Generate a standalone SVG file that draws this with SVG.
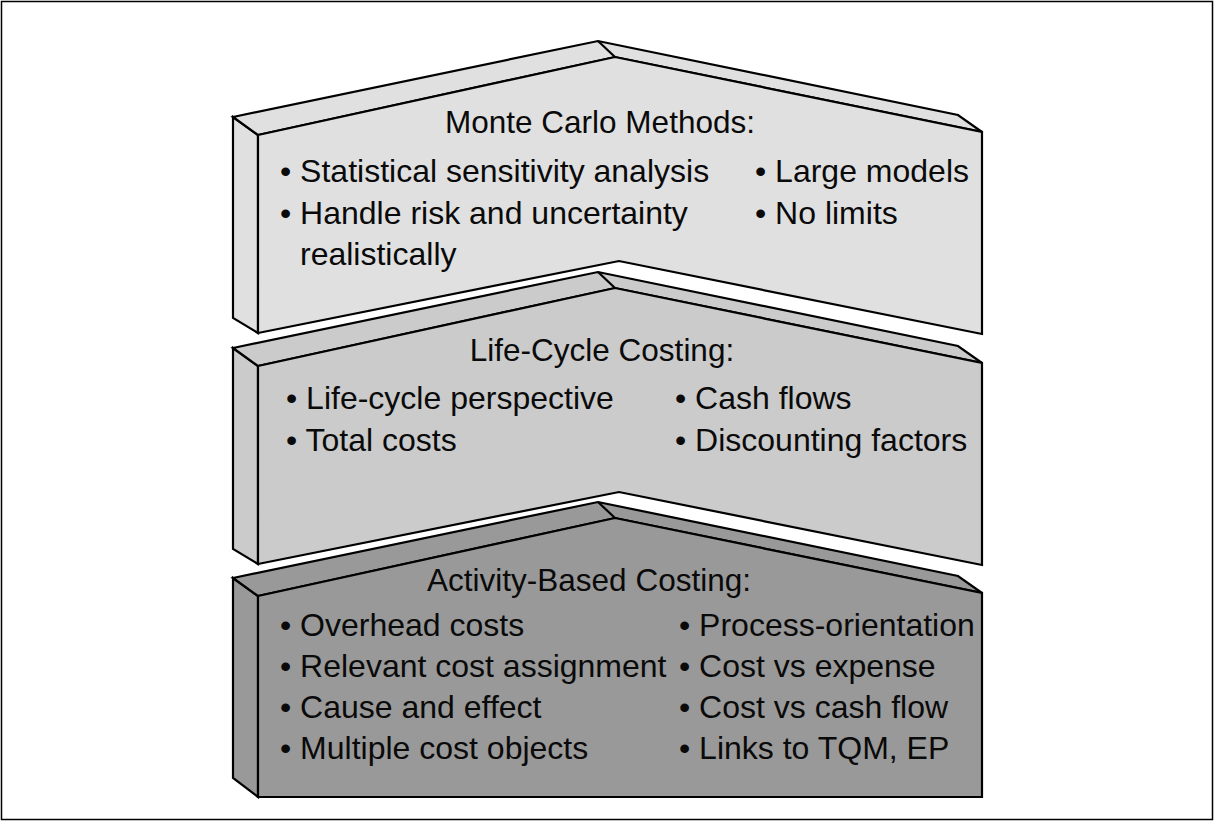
<svg xmlns="http://www.w3.org/2000/svg" width="1216" height="824" viewBox="0 0 1216 824">
  <style>
    .edge { stroke: #000; stroke-width: 2.2; stroke-linejoin: miter; }
    .b1 { fill: #e0e0e0; }
    .b2 { fill: #cbcbcb; }
    .b3 { fill: #999999; }
    .title { font-family: "Liberation Sans", Arial, sans-serif; font-size: 31.5px; fill: #0a0a0a; text-anchor: middle; }
    .item { font-family: "Liberation Sans", Arial, sans-serif; font-size: 32px; fill: #0a0a0a; }
  </style>
  <defs>
    <!-- chevron slab: left side face, top bevel, front face -->
    <g id="slab-chevron">
      <polygon class="edge" points="233,117 258,135 258,333 233,318"/>
      <polygon class="edge" points="233,117 598,41 958,115 982,132 615,57 258,135"/>
      <polygon class="edge" points="258,135 615,57 982,132 982,334 619,261 258,333"/>
      <line class="edge" x1="598" y1="41" x2="615" y2="57"/>
    </g>
    <!-- base slab with a flat bottom -->
    <g id="slab-flat">
      <polygon class="edge" points="233,117 258,135 258,336 233,317"/>
      <polygon class="edge" points="233,117 598,41 958,115 982,132 615,57 258,135"/>
      <polygon class="edge" points="258,135 615,57 982,132 982,336 258,336"/>
      <line class="edge" x1="598" y1="41" x2="615" y2="57"/>
    </g>
  </defs>

  <rect x="0" y="0" width="1216" height="824" fill="#fff"/>
  <rect x="1.5" y="1.5" width="1211" height="818" fill="none" stroke="#000" stroke-width="1.5"/>

  <g id="monte-carlo">
    <use href="#slab-chevron" class="b1"/>
    <text class="title" x="600" y="133">Monte Carlo Methods:</text>
    <text class="item" x="280" y="182">• Statistical sensitivity analysis</text>
    <text class="item" x="280" y="224">• Handle risk and uncertainty</text>
    <text class="item" x="300" y="265">realistically</text>
    <text class="item" x="755" y="182">• Large models</text>
    <text class="item" x="755" y="224">• No limits</text>
  </g>

  <g id="life-cycle" transform="translate(0,231)">
    <use href="#slab-chevron" class="b2"/>
  </g>
  <g id="life-cycle-text">
    <text class="title" x="602" y="361">Life-Cycle Costing:</text>
    <text class="item" x="286" y="409">• Life-cycle perspective</text>
    <text class="item" x="286" y="451">• Total costs</text>
    <text class="item" x="675" y="409">• Cash flows</text>
    <text class="item" x="675" y="451">• Discounting factors</text>
  </g>

  <g id="activity-based" transform="translate(0,461)">
    <use href="#slab-flat" class="b3"/>
  </g>
  <g id="activity-based-text">
    <text class="title" x="589" y="591">Activity-Based Costing:</text>
    <text class="item" x="280" y="636">• Overhead costs</text>
    <text class="item" x="280" y="677">• Relevant cost assignment</text>
    <text class="item" x="280" y="718">• Cause and effect</text>
    <text class="item" x="280" y="759">• Multiple cost objects</text>
    <text class="item" x="679" y="636">• Process-orientation</text>
    <text class="item" x="679" y="677">• Cost vs expense</text>
    <text class="item" x="679" y="718">• Cost vs cash flow</text>
    <text class="item" x="679" y="759">• Links to TQM, EP</text>
  </g>
</svg>
